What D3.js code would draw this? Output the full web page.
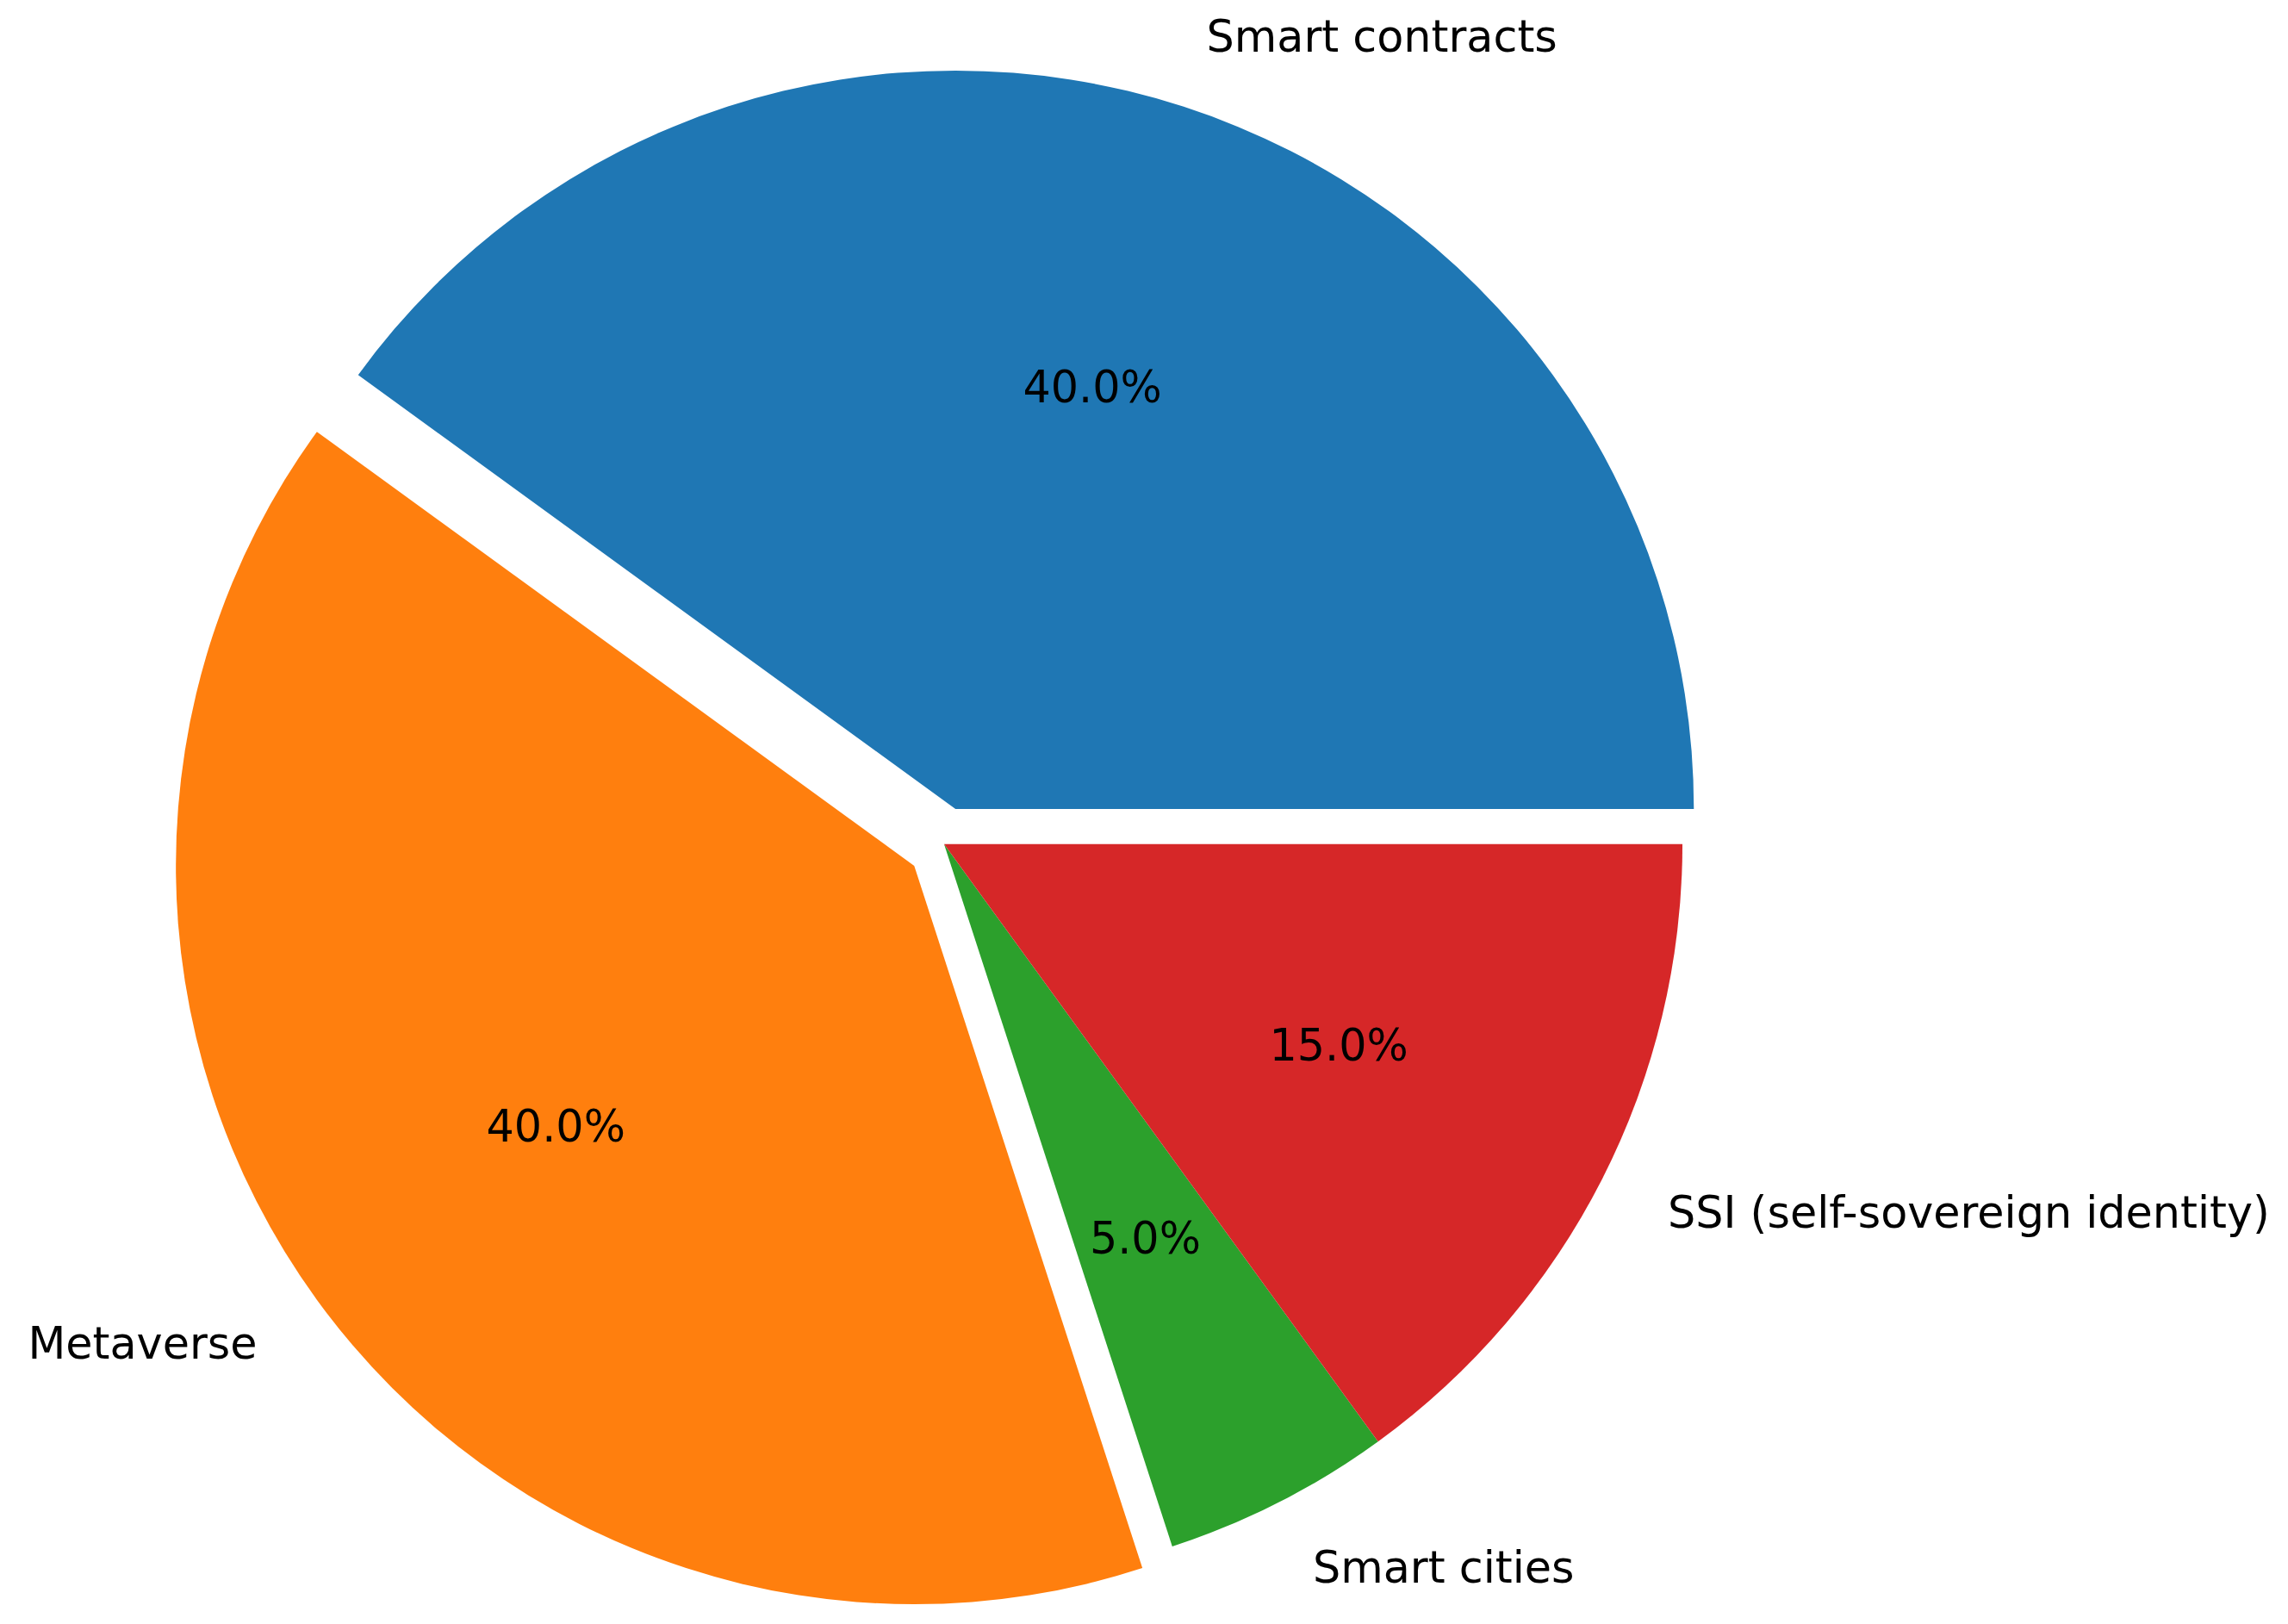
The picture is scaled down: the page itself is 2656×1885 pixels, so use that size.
<!DOCTYPE html>
<html><head><meta charset="utf-8">
<script src="https://cdn.jsdelivr.net/npm/d3@7"></script>
<style>body{margin:0;background:#fff}svg{display:block}</style>
</head><body>
<svg id="chart" width="2656" height="1885" viewBox="0 0 1568 1108"></svg>
<script>
const labels = ["Smart contracts", "Metaverse", "Smart cities", "SSI (self-sovereign identity)"];
const values = [40, 40, 5, 15];
const explode = [0.05, 0.05, 0, 0];
const colors = ["#1f77b4", "#ff7f0e", "#2ca02c", "#d62728"];

const svg = d3.select("#chart");
const cx = 647, cy = 576, r = 506;
const total = d3.sum(values);

// matplotlib starts at 3 o'clock and runs counterclockwise
const pie = d3.pie().sort(null).startAngle(Math.PI / 2).endAngle(Math.PI / 2 - 2 * Math.PI);
const arcs = pie(values);
const arc = d3.arc().innerRadius(0).outerRadius(r);
const font = "'DejaVu Sans', sans-serif";

arcs.forEach((d, i) => {
  const mid = (d.startAngle + d.endAngle) / 2;
  const ux = Math.sin(mid), uy = -Math.cos(mid);
  const ox = cx + explode[i] * r * ux, oy = cy + explode[i] * r * uy;
  const g = svg.append("g").attr("transform", `translate(${ox},${oy})`);
  g.append("path").attr("d", arc(d)).attr("fill", colors[i]);
  g.append("text")
    .attr("x", 1.1 * r * ux).attr("y", 1.1 * r * uy)
    .attr("text-anchor", ux >= 0 ? "start" : "end")
    .attr("dominant-baseline", "central")
    .attr("font-family", font).attr("font-size", 30)
    .text(labels[i]);
  g.append("text")
    .attr("x", 0.6 * r * ux).attr("y", 0.6 * r * uy)
    .attr("text-anchor", "middle")
    .attr("dominant-baseline", "central")
    .attr("font-family", font).attr("font-size", 30)
    .text((values[i] / total * 100).toFixed(1) + "%");
});
</script>
</body></html>
